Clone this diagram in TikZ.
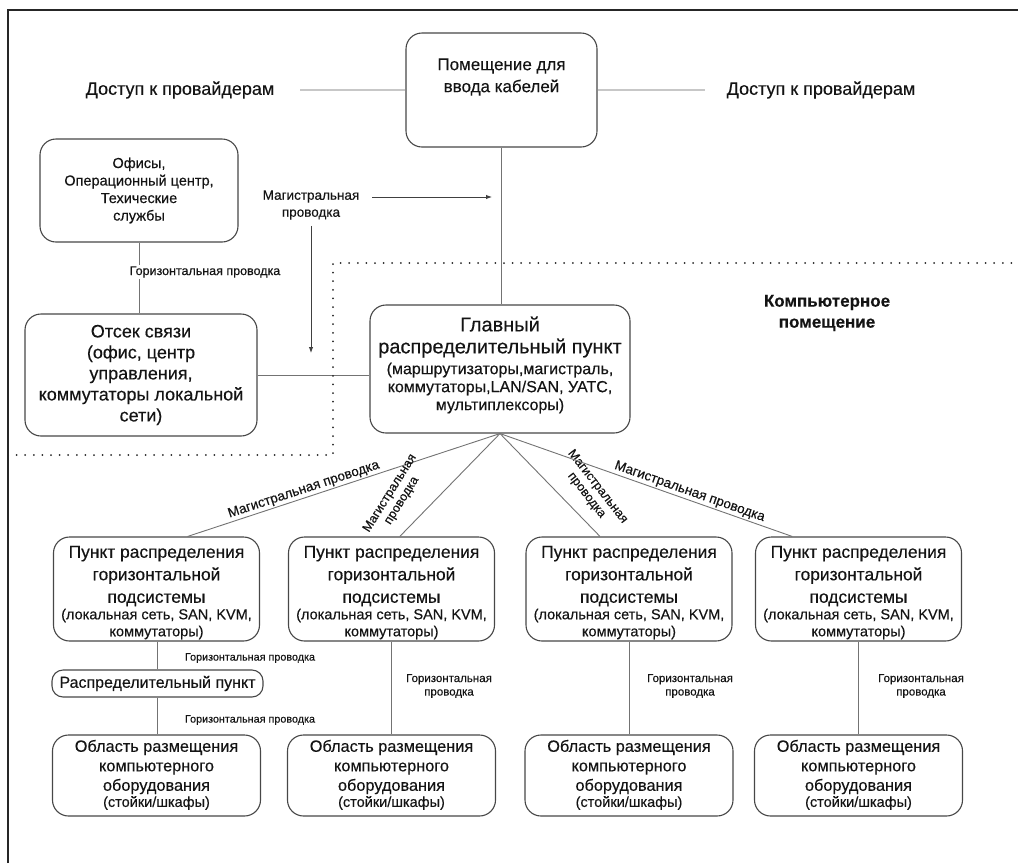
\documentclass[tikz,border=0pt]{standalone}
\usepackage{fontspec}
\setmainfont{Liberation Sans}[FakeBold=0.35]
\usetikzlibrary{arrows.meta,calc}

\newcommand\fsz[2]{\fontsize{#1}{#2}\selectfont}

\begin{document}
\begin{tikzpicture}[x=1pt,y=-1pt,
  box/.style={draw=black!72, line width=1.1pt, rounded corners=16pt, inner sep=0pt, align=center, text=black!92},
  wire/.style={draw=black!55, line width=0.9pt},
  feed/.style={draw=black!22, line width=1.8pt},
  txt/.style={align=center, inner sep=0pt, text=black!92},
  tag/.style={txt, fill=white, inner sep=1pt},
  arr/.style={draw=black!75, line width=0.9pt, -{Latex[length=6pt,width=4.5pt]}},
  dots/.style={draw=black!85, line width=2pt, dash pattern=on 0pt off 8.6pt, line cap=round},
]
\useasboundingbox (0,0) rectangle (1018,863);

% outer frame (top and left edges)
\draw[line width=2.4pt, black!85] (8,863) -- (8,10) -- (1018,10);

% cable entrance room and provider access
\node[box, minimum width=191pt, minimum height=114pt] (cab) at (501.5,90) {};
\node[txt, font=\fsz{17}{22}] (cabt) at (501.5,77) {Помещение для\\ввода кабелей};
\node[txt, font=\fsz{18}{22}] (prov1) at (180,90) {Доступ к провайдерам};
\node[txt, font=\fsz{18}{22}] (prov2) at (821,90) {Доступ к провайдерам};
\draw[feed, shorten <=26pt] (prov1) -- (cab);
\draw[feed, shorten <=22pt] (prov2) -- (cab);

% offices and telecom room
\node[box, font=\fsz{14.5}{17.5}, minimum width=198pt, minimum height=103pt] (off) at (139,190.5)
  {Офисы,\\Операционный центр,\\Техические\\службы};
\node[box, font=\fsz{18}{21}, minimum width=232pt, minimum height=122pt] (ots) at (141,375)
  {Отсек связи\\(офис, центр\\управления,\\коммутаторы локальной\\сети)};
\draw[wire] (off) -- (off |- ots.north);
\node[tag, font=\fsz{12.5}{15}] (hz0) at (205,272) {Горизонтальная проводка};

% main distribution area
\node[box, minimum width=260pt, minimum height=128pt] (mdf) at (500,369) {};
\node[txt, font=\fsz{20}{22}] (mdfa) at (500,337) {Главный\\распределительный пункт};
\node[txt, font=\fsz{16}{18}] (mdfb) at (500,388)
  {(маршрутизаторы,магистраль,\\коммутаторы,LAN/SAN, УАТС,\\мультиплексоры)};
\draw[wire] (cab.south) -- (cab.south |- mdf.north);
\draw[wire] (ots.east) -- (ots.east -| mdf.west);

% backbone cabling arrows
\node[txt, font=\fsz{13.5}{17}] (mag0) at (311,205) {Магистральная\\проводка};
\coordinate (magS) at (372,197);
\coordinate (magR) at (492,197);
\coordinate (magD) at (311,353);
\draw[arr] (magS) -- (magR);
\draw[arr, shorten <=6pt] (mag0.south) -- (magD);

% computer room boundary
\draw[dots] (8,455) -- (333,455) -- (333,263) -- (1018,263);
\node[txt, font=\bfseries\fsz{17}{21}] (comp) at (827,313) {Компьютерное\\помещение};

% horizontal distribution areas and equipment areas
\foreach \i/\cx in {1/156.5, 2/391.5, 3/629, 4/858.5} {
  \node[box, minimum width=206pt, minimum height=104pt] (h\i) at (\cx,589) {};
  \node[txt, font=\fsz{17.4}{22.5}] (ha\i) at (\cx,576) {Пункт распределения\\горизонтальной\\подсистемы};
  \node[txt, font=\fsz{14.5}{17}] (hb\i) at (\cx,624) {(локальная сеть, SAN, KVM,\\коммутаторы)};
  \node[box, minimum width=208pt, minimum height=81pt] (o\i) at (\cx,775.5) {};
  \node[txt, font=\fsz{16.3}{19.5}] (oa\i) at (\cx,767) {Область размещения\\компьютерного\\оборудования};
  \node[txt, font=\fsz{14.5}{17}] (ob\i) at (\cx,803) {(стойки/шкафы)};
}

% backbone cabling to the horizontal distribution areas
\draw[wire] (mdf.south) -- ($(h1.north west)!0.65!(h1.north east)$)
  node[sloped, above, pos=0.62, font=\fsz{13.5}{16}, inner sep=1.5pt, text=black!92] (l1) {Магистральная проводка};
\draw[wire] (mdf.south) -- ($(h2.north west)!0.54!(h2.north east)$);
\node[txt, font=\fsz{12.5}{14}, rotate=58] (l2) at (396,497) {Магистральная\\проводка};
\draw[wire] (mdf.south) -- ($(h3.north west)!0.36!(h3.north east)$);
\node[txt, font=\fsz{12.5}{14}, rotate=-52] (l3) at (592,491) {Магистральная\\проводка};
\draw[wire] (mdf.south) -- ($(h4.north west)!0.18!(h4.north east)$)
  node[sloped, above, pos=0.64, font=\fsz{13.5}{16}, inner sep=1.5pt, text=black!92] (l4) {Магистральная проводка};

% first column: intermediate distribution point
\node[box, rounded corners=11pt, font=\fsz{16}{19}, minimum width=211pt, minimum height=27pt] (rp) at (157.5,683.5) {Распределительный пункт};
\draw[wire] (rp.north |- h1.south) -- (rp.north);
\draw[wire] (rp.south) -- (rp.south |- o1.north);
\node[txt, font=\fsz{10.8}{13}] (hz1) at (250,658) {Горизонтальная проводка};
\node[txt, font=\fsz{10.8}{13}] (hz2) at (250,720) {Горизонтальная проводка};

% other columns: direct horizontal cabling
\foreach \i/\lx in {2/449, 3/690, 4/921} {
  \draw[wire] (h\i.south) -- (o\i.north);
  \node[txt, font=\fsz{11.5}{13.5}] (hzv\i) at (\lx,686) {Горизонтальная\\проводка};
}
\end{tikzpicture}
\end{document}
